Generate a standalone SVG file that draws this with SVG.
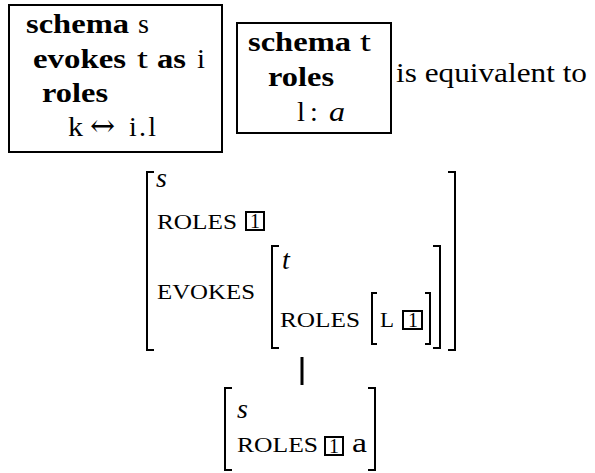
<svg xmlns="http://www.w3.org/2000/svg" width="595" height="473" viewBox="0 0 595 473">
<style>
text{font-family:"Liberation Serif",serif;fill:#000}
.t{font-size:28px}
.b{font-size:28px;font-weight:bold}
.i{font-size:28px;font-style:italic}
.arr{font-family:"DejaVu Serif",serif;font-size:30px}
.sc{font-size:21px}
.d{font-size:20px}
.frame{fill:none;stroke:#000;stroke-width:2}
.br{fill:none;stroke:#000;stroke-width:2}
.box{fill:none;stroke:#000;stroke-width:2}
.conn{stroke:#000;stroke-width:3}
</style>
<rect width="595" height="473" fill="#fff"/>
<g id="schema-s">
<rect class="frame" x="9" y="5" width="213" height="147"/>
<text class="b" x="26" y="33" textLength="103" lengthAdjust="spacingAndGlyphs">schema</text>
<text class="t" x="138" y="33" textLength="11" lengthAdjust="spacingAndGlyphs">s</text>
<text class="b" x="33" y="68" textLength="93" lengthAdjust="spacingAndGlyphs">evokes</text>
<text class="t" x="137" y="68" textLength="11" lengthAdjust="spacingAndGlyphs">t</text>
<text class="b" x="157" y="68" textLength="29" lengthAdjust="spacingAndGlyphs">as</text>
<text class="t" x="197" y="68" textLength="8" lengthAdjust="spacingAndGlyphs">i</text>
<text class="b" x="42" y="102" textLength="66" lengthAdjust="spacingAndGlyphs">roles</text>
<text class="t" x="68" y="136" textLength="15" lengthAdjust="spacingAndGlyphs">k</text>
<text class="arr" x="90" y="136">↔</text>
<text class="t" x="129" y="136" textLength="27" lengthAdjust="spacing">i.l</text>
</g>
<g id="schema-t">
<rect class="frame" x="237" y="23" width="154" height="110"/>
<text class="b" x="248" y="51" textLength="103" lengthAdjust="spacingAndGlyphs">schema</text>
<text class="t" x="360" y="51" textLength="11" lengthAdjust="spacingAndGlyphs">t</text>
<text class="b" x="268" y="86" textLength="66" lengthAdjust="spacingAndGlyphs">roles</text>
<text class="t" x="297" y="121" textLength="8" lengthAdjust="spacingAndGlyphs">l</text>
<text class="t" x="310" y="121">:</text>
<text class="i" x="329" y="121" textLength="16" lengthAdjust="spacingAndGlyphs">a</text>
</g>
<g id="equivalent">
<text class="t" x="396" y="82" textLength="191" lengthAdjust="spacingAndGlyphs">is equivalent to</text>
</g>
<g id="avm-combined">
<path class="br" d="M154,172 H147 V350 H154"/>
<path class="br" d="M448,172 H455 V350 H448"/>
<text class="i" x="156" y="187">s</text>
<text class="sc" x="157" y="229" textLength="80" lengthAdjust="spacingAndGlyphs">ROLES</text>
<rect class="box" x="246" y="212" width="18" height="18"/>
<text class="d" x="250" y="228">1</text>
<text class="sc" x="157" y="299" textLength="98" lengthAdjust="spacingAndGlyphs">EVOKES</text>
<path class="br" d="M279,246 H272 V348 H279"/>
<path class="br" d="M433,246 H440 V348 H433"/>
<text class="i" x="282" y="269">t</text>
<text class="sc" x="280" y="327" textLength="80" lengthAdjust="spacingAndGlyphs">ROLES</text>
<path class="br" d="M377,293 H372 V344 H377"/>
<path class="br" d="M425,293 H430 V344 H425"/>
<text class="sc" x="380" y="327" textLength="14" lengthAdjust="spacingAndGlyphs">L</text>
<rect class="box" x="403" y="311" width="19" height="18"/>
<text class="d" x="408" y="327">1</text>
</g>
<g id="avm-result">
<path class="br" d="M232,388 H225 V470 H232"/>
<path class="br" d="M368,388 H375 V470 H368"/>
<text class="i" x="237" y="418">s</text>
<text class="sc" x="237" y="452" textLength="81" lengthAdjust="spacingAndGlyphs">ROLES</text>
<rect class="box" x="325" y="437" width="18" height="18"/>
<text class="d" x="329" y="453">1</text>
<text class="t" x="352" y="452" textLength="15" lengthAdjust="spacingAndGlyphs">a</text>
</g>
<g id="connectors">
<line class="conn" x1="302" y1="357" x2="302" y2="385"/>
</g>
</svg>
